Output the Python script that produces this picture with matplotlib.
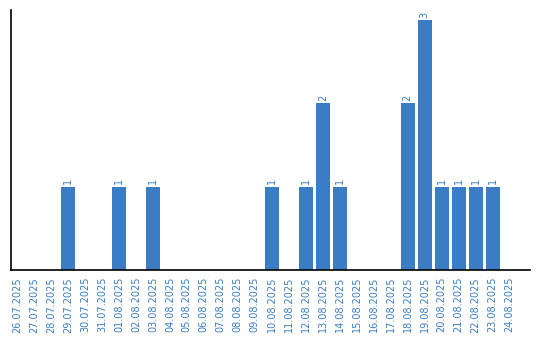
import matplotlib
matplotlib.use("Agg")
import matplotlib.pyplot as plt

# Data
dates = ['26.07.2025', '27.07.2025', '28.07.2025', '29.07.2025', '30.07.2025',
         '31.07.2025', '01.08.2025', '02.08.2025', '03.08.2025', '04.08.2025',
         '05.08.2025', '06.08.2025', '07.08.2025', '08.08.2025', '09.08.2025',
         '10.08.2025', '11.08.2025', '12.08.2025', '13.08.2025', '14.08.2025',
         '15.08.2025', '16.08.2025', '17.08.2025', '18.08.2025', '19.08.2025',
         '20.08.2025', '21.08.2025', '22.08.2025', '23.08.2025', '24.08.2025']
counts = [0, 0, 0, 1, 0,
          0, 1, 0, 1, 0,
          0, 0, 0, 0, 0,
          1, 0, 1, 2, 1,
          0, 0, 0, 2, 3,
          1, 1, 1, 1, 0]

blue = '#3a7dc4'

fig = plt.figure(figsize=(5.4, 3.4), dpi=100)
ax = fig.add_axes([0.0204, 0.206, 0.9606, 0.764])

x = range(len(dates))
bars = ax.bar(x, counts, width=0.82, color=blue)

# Value labels above non-zero bars
for bar, v in zip(bars, counts):
    if v > 0:
        ax.text(bar.get_x() + bar.get_width() / 2, v + 0.03, str(v),
                rotation=90, ha='center', va='bottom', fontsize=7, color=blue)

ax.set_xlim(-0.35, len(dates) + 0.18)
ax.set_ylim(0, 3.12)
ax.set_xticks(list(x))
ax.set_xticklabels(dates, rotation=90, fontsize=7, color=blue)
ax.tick_params(axis='x', length=0, pad=5)
ax.set_yticks([])

for side in ['top', 'right']:
    ax.spines[side].set_visible(False)
for side in ['left', 'bottom']:
    ax.spines[side].set_linewidth(1.2)

fig.savefig('out.png', dpi=100)
